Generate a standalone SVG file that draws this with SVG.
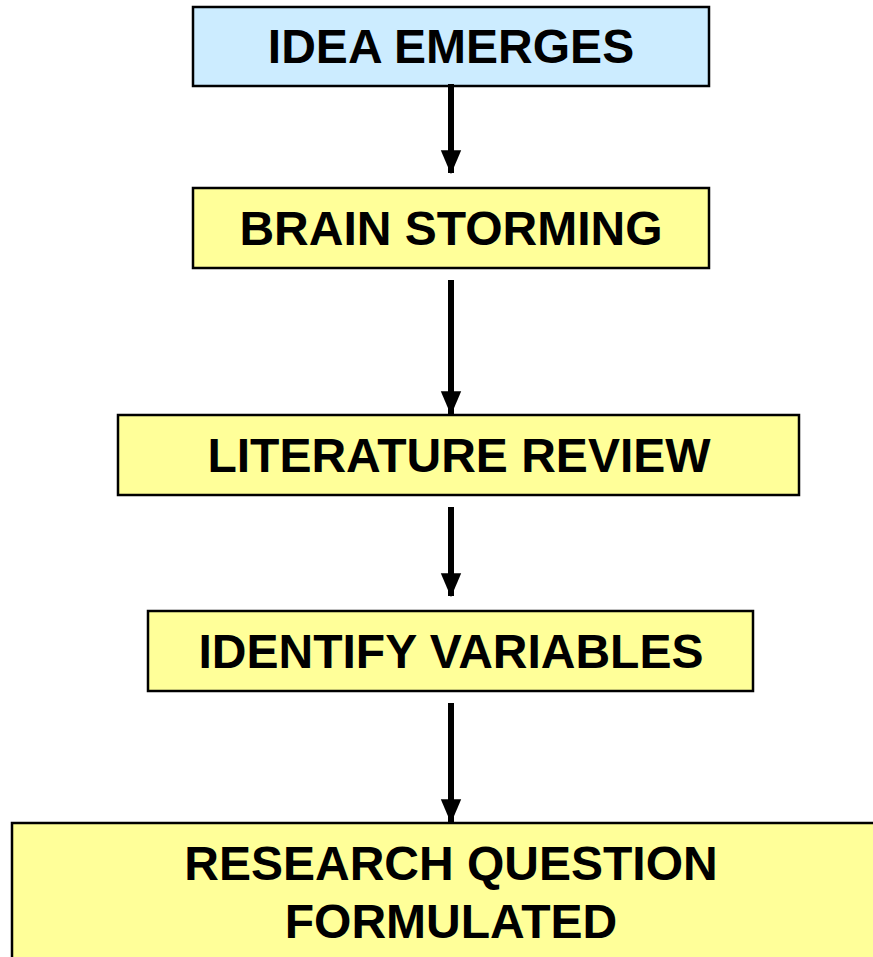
<svg xmlns="http://www.w3.org/2000/svg" width="873" height="957" viewBox="0 0 873 957">
<style>
.box{stroke:#000;stroke-width:2.5}
.y{fill:#FFFF99}
.b{fill:#CCECFF}
.t{font-family:"Liberation Sans",Arial,sans-serif;font-weight:bold;font-size:48px;fill:#000;text-anchor:middle}
.c{stroke:#000;stroke-width:6;fill:none}
</style>
<defs>
<marker id="ah" markerWidth="4" markerHeight="4" refX="3.8" refY="2" orient="auto" markerUnits="strokeWidth">
<path d="M0,0.3 L4,2 L0,3.7 Z" fill="#000"/>
</marker>
</defs>
<rect width="873" height="957" fill="#fff"/>
<g id="n1"><rect class="box b" x="193" y="7" width="516" height="79"/><text class="t" x="451" y="63">IDEA EMERGES</text></g>
<g id="n2"><rect class="box y" x="193" y="188" width="516" height="80"/><text class="t" x="451" y="245">BRAIN STORMING</text></g>
<g id="n3"><rect class="box y" x="118" y="415" width="681" height="80"/><text class="t" x="459" y="472">LITERATURE REVIEW</text></g>
<g id="n4"><rect class="box y" x="148" y="611" width="605" height="80"/><text class="t" x="451" y="668">IDENTIFY VARIABLES</text></g>
<g id="n5"><rect class="box y" x="12" y="823" width="870" height="140"/><text class="t" x="451" y="880">RESEARCH QUESTION</text><text class="t" x="451" y="938">FORMULATED</text></g>
<g id="connectors">
<line class="c" x1="451" y1="84" x2="451" y2="173" marker-end="url(#ah)"/>
<line class="c" x1="451" y1="280" x2="451" y2="414" marker-end="url(#ah)"/>
<line class="c" x1="451" y1="507" x2="451" y2="596" marker-end="url(#ah)"/>
<line class="c" x1="451" y1="703" x2="451" y2="822" marker-end="url(#ah)"/>
</g>
</svg>
